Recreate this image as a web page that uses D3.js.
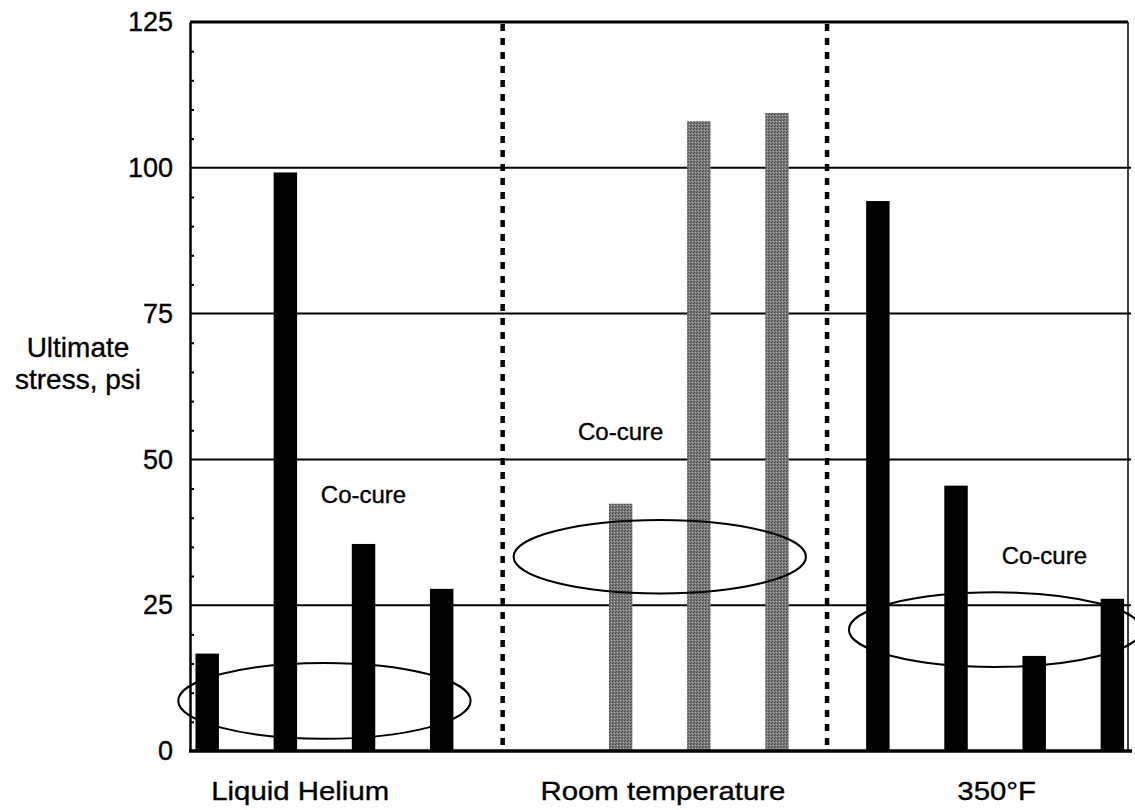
<!DOCTYPE html>
<html>
<head>
<meta charset="utf-8">
<script src="https://cdn.jsdelivr.net/npm/d3@7"></script>
<style>
  body { margin: 0; background: #fff; }
  text { font-family: "Liberation Sans", Arial, Helvetica, sans-serif; fill: #000; stroke: #000; stroke-width: 0.35px; }
</style>
</head>
<body>
<div id="chart"></div>
<script>
// data
const groups = ["Liquid Helium", "Room temperature", "350\u00B0F"];
const heliumValues = [16.7, 99.2, 35.5, 27.8];
const roomValues = [null, 42.4, 108, 109.4];
const hotValues = [94.3, 45.5, 16.3, 26.1];
const yTicks = [0, 25, 50, 75, 100, 125];
// co-cure ellipses: centre value and half height (psi)
const ellipseValues = [8.6, 33.3, 20.8];
const ellipseHalf = [6.5, 6.3, 6.4];
const labelValues = [42.6, 53.4, 32];

// layout, in frame units (one unit = one bar step)
const groupStart = [0.22, 4.51, 8.8];
const dividerPos = [4, 8.15];
const catLabelPos = [1.41, 6.05, 10.32];
const coCureSlot = [2, 1, 2.13];
const barW = 0.3;

const width = 1135, height = 810;
const x = d3.scaleLinear().domain([0, 12]).range([190, 1128]);
const y = d3.scaleLinear().domain([0, 125]).range([751, 22]);

const svg = d3.select("#chart").append("svg")
  .attr("width", width).attr("height", height);

// stippled gray for room temperature bars
const pat = svg.append("defs").append("pattern")
  .attr("id", "stipple").attr("width", 3).attr("height", 3)
  .attr("patternUnits", "userSpaceOnUse");
pat.append("rect").attr("width", 3).attr("height", 3).attr("fill", "#7a7a7a");
pat.append("rect").attr("x", 0).attr("y", 0).attr("width", 1).attr("height", 1).attr("fill", "#444");
pat.append("rect").attr("x", 2).attr("y", 1).attr("width", 1).attr("height", 1).attr("fill", "#b0b0b0");
pat.append("rect").attr("x", 1).attr("y", 2).attr("width", 1).attr("height", 1).attr("fill", "#555");

// gridlines
svg.selectAll(".grid")
  .data(yTicks.filter(d => d > 0 && d < 125))
  .join("line")
  .attr("x1", x(0)).attr("x2", x(12) + 3)
  .attr("y1", d => y(d)).attr("y2", d => y(d))
  .attr("stroke", "#000").attr("stroke-width", 2);

// frame: top, right
svg.append("line")
  .attr("x1", x(0)).attr("x2", x(12))
  .attr("y1", y(125)).attr("y2", y(125))
  .attr("stroke", "#000").attr("stroke-width", 3);
svg.append("line")
  .attr("x1", x(12)).attr("x2", x(12))
  .attr("y1", y(125)).attr("y2", y(0))
  .attr("stroke", "#000").attr("stroke-width", 1.5);

// dotted dividers between groups
svg.selectAll(".divider")
  .data(dividerPos)
  .join("line")
  .attr("x1", d => x(d)).attr("x2", d => x(d))
  .attr("y1", y(125) + 2).attr("y2", y(0))
  .attr("stroke", "#000").attr("stroke-width", 4.5)
  .attr("stroke-dasharray", "7,7");

// bars
const series = [heliumValues, roomValues, hotValues];
const bars = [];
series.forEach((vals, g) => vals.forEach((v, i) => {
  if (v != null) bars.push({ g, i, v });
}));

svg.selectAll(".bar")
  .data(bars)
  .join("rect")
  .attr("x", d => x(groupStart[d.g] + d.i - barW / 2))
  .attr("width", x(barW) - x(0))
  .attr("y", d => y(d.v))
  .attr("height", d => y(0) - y(d.v))
  .attr("fill", d => d.g === 1 ? "url(#stipple)" : "#000");

// co-cure ellipses
svg.selectAll(".ring")
  .data(groups)
  .join("ellipse")
  .attr("cx", (d, g) => x(groupStart[g] + 1.5))
  .attr("cy", (d, g) => y(ellipseValues[g]))
  .attr("rx", x(1.87) - x(0))
  .attr("ry", (d, g) => y(0) - y(ellipseHalf[g]))
  .attr("fill", "none").attr("stroke", "#000").attr("stroke-width", 2);

svg.selectAll(".cocure")
  .data(groups)
  .join("text")
  .attr("x", (d, g) => x(groupStart[g] + coCureSlot[g]))
  .attr("y", (d, g) => y(labelValues[g]))
  .attr("text-anchor", "middle")
  .style("font-size", "24px")
  .text("Co-cure");

// left axis with labels
const yAxis = svg.append("g")
  .attr("transform", `translate(${x(0)},0)`)
  .call(d3.axisLeft(y).tickValues(yTicks).tickSize(0).tickPadding(17));
yAxis.select(".domain").attr("stroke-width", 2.5);
yAxis.selectAll("text").style("font-size", "27px")
  .style("font-family", "'Liberation Sans', Arial, sans-serif");

// minor ticks every 5
svg.append("g")
  .attr("transform", `translate(${x(0)},0)`)
  .call(d3.axisRight(y).tickValues(d3.range(5, 125, 5).filter(d => d % 25 !== 0))
    .tickSize(4).tickFormat(""))
  .call(g => g.select(".domain").remove())
  .selectAll("line").attr("stroke-width", 2);

// bottom axis line
svg.append("line")
  .attr("x1", x(0) - 1).attr("x2", x(12) + 4)
  .attr("y1", y(0)).attr("y2", y(0))
  .attr("stroke", "#000").attr("stroke-width", 3.5);

// category labels
svg.selectAll(".cat")
  .data(groups)
  .join("text")
  .attr("transform", (d, g) => `translate(${x(catLabelPos[g])},800) scale(1.13,1)`)
  .attr("text-anchor", "middle")
  .style("font-size", "26px")
  .text(d => d);

// y title
const title = svg.append("text")
  .attr("text-anchor", "middle")
  .style("font-size", "28px");
title.append("tspan").attr("x", 78).attr("y", 357).text("Ultimate");
title.append("tspan").attr("x", 78).attr("y", 389).text("stress, psi");
</script>
</body>
</html>
